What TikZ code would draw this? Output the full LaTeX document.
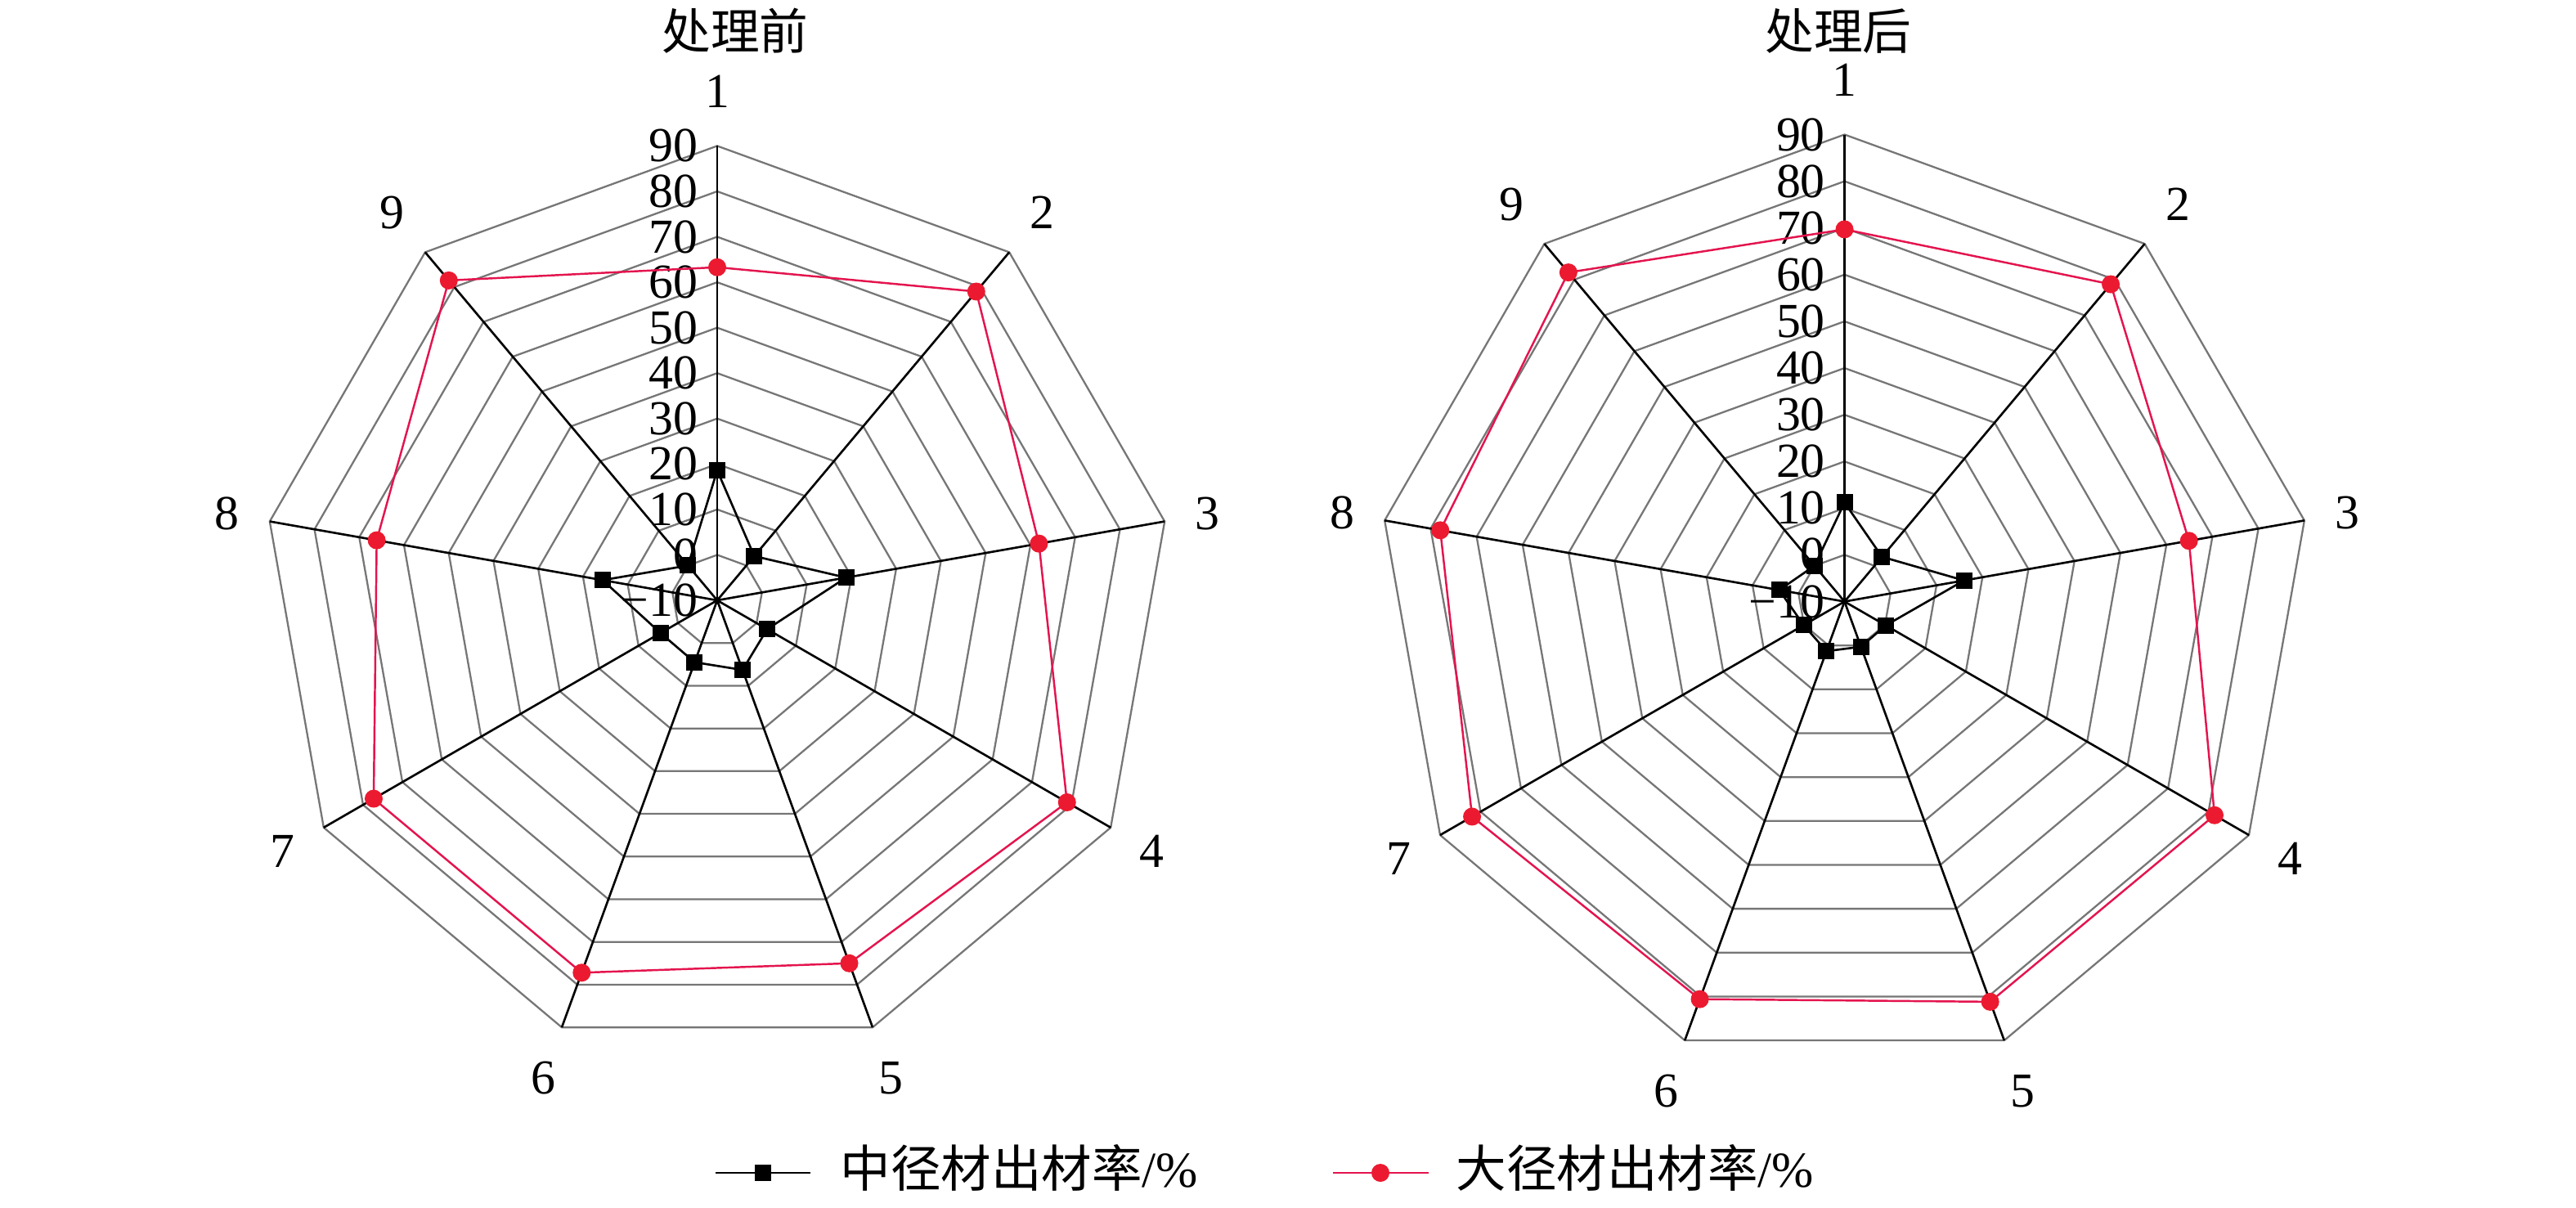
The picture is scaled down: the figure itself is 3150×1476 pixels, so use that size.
\documentclass[tikz,border=0pt]{standalone}
\usepackage{fontspec}
\setmainfont{Liberation Serif}
\newfontfamily\cjk{Noto Sans CJK SC}
\definecolor{ringgray}{RGB}{118,118,118}
\definecolor{serred}{RGB}{228,20,78}
\definecolor{dotred}{RGB}{236,26,48}
\newcommand\myradar[6]{%
  \begin{scope}[shift={(#2,#3)}]
    % rings
    \foreach \i in {1,...,10}{
      \draw[ringline] (-90:{\i/10*#4}) \foreach \k in {1,...,8}{ -- ({\k*40-90}:{\i/10*#4}) } -- cycle;
    }
    % spokes
    \foreach \k in {0,...,8}{
      \draw[spoke] (0,0) -- ({\k*40-90}:#4);
    }
    % value labels
    \foreach \t [count=\i from 0] in {−10,0,10,20,30,40,50,60,70,80,90}{
      \node[vlab] (#1v\i) at (-23,{-\i/10*#4}) {\t};
    }
    % category labels
    \foreach \k in {1,...,9}{
      \node[clab] (#1c\k) at ({(\k-1)*40-90}:{#4+50+17*abs(cos((\k-1)*40))}) {\k};
    }
    % black series
    \foreach \v [count=\k] in {#5}{
      \coordinate (#1b\k) at ({(\k-1)*40-90}:{(\v+10)/100*#4});
    }
    \draw[bline] (#1b1) -- (#1b2) -- (#1b3) -- (#1b4) -- (#1b5) -- (#1b6) -- (#1b7) -- (#1b8) -- (#1b9) -- cycle;
    \foreach \k in {1,...,9}{
      \node[bsq] (#1bm\k) at (#1b\k) {};
    }
    % red series
    \foreach \v [count=\k] in {#6}{
      \coordinate (#1r\k) at ({(\k-1)*40-90}:{(\v+10)/100*#4});
    }
    \draw[rline] (#1r1) -- (#1r2) -- (#1r3) -- (#1r4) -- (#1r5) -- (#1r6) -- (#1r7) -- (#1r8) -- (#1r9) -- cycle;
    \foreach \k in {1,...,9}{
      \node[rdot] (#1rm\k) at (#1r\k) {};
    }
  \end{scope}}
\begin{document}
\begin{tikzpicture}[x=0.1mm,y=-0.1mm,
  font=\fontsize{17pt}{20pt}\selectfont,
  ringline/.style={draw=ringgray, line width=0.65pt, line join=miter},
  spoke/.style={draw=black, line width=0.75pt},
  bline/.style={draw=black, line width=0.75pt, line join=round},
  rline/.style={draw=serred, line width=0.7pt, line join=round},
  bsq/.style={rectangle, fill=black, inner sep=0pt, minimum size=2mm},
  rdot/.style={circle, fill=dotred, inner sep=0pt, minimum size=2.2mm},
  vlab/.style={anchor=east, inner sep=0pt},
  clab/.style={inner sep=0pt},
  txt/.style={inner sep=0pt},
  legtxt/.style={inner sep=0pt, anchor=west, font=\fontsize{17.5pt}{20pt}\selectfont}]
\path[use as bounding box, fill=white] (0,0) rectangle (3150,1476);

\myradar{L}{877}{734}{555.6}{18.6,2.7,18.8,2.7,6.3,4.5,4.4,15.6,0}{63.3,78.7,61.9,78.9,75.0,77.2,77.3,66.1,81.9}
\myradar{R}{2255.5}{735.5}{571}{11.2,2.5,16.0,0.2,0.3,1.3,0.1,4.2,0}{69.7,78.7,64.9,81.5,81.2,80.6,82.1,77.9,82.0}

% titles
\node[txt] (t1) at (899,38) {\cjk 处理前};
\node[txt] (t2) at (2248,38) {\cjk 处理后};

% legend
\coordinate (la1) at (875,1434);
\coordinate (la2) at (991,1434);
\draw[bline] (la1) -- (la2);
\node[bsq] (lam) at (933,1434) {};
\node[legtxt] (lat) at (1027,1428) {{\cjk 中径材出材率}/\%};

\coordinate (lb1) at (1630,1434);
\coordinate (lb2) at (1747,1434);
\draw[rline] (lb1) -- (lb2);
\node[rdot] (lbm) at (1688,1434) {};
\node[legtxt] (lbt) at (1780,1428) {{\cjk 大径材出材率}/\%};
\end{tikzpicture}
\end{document}
